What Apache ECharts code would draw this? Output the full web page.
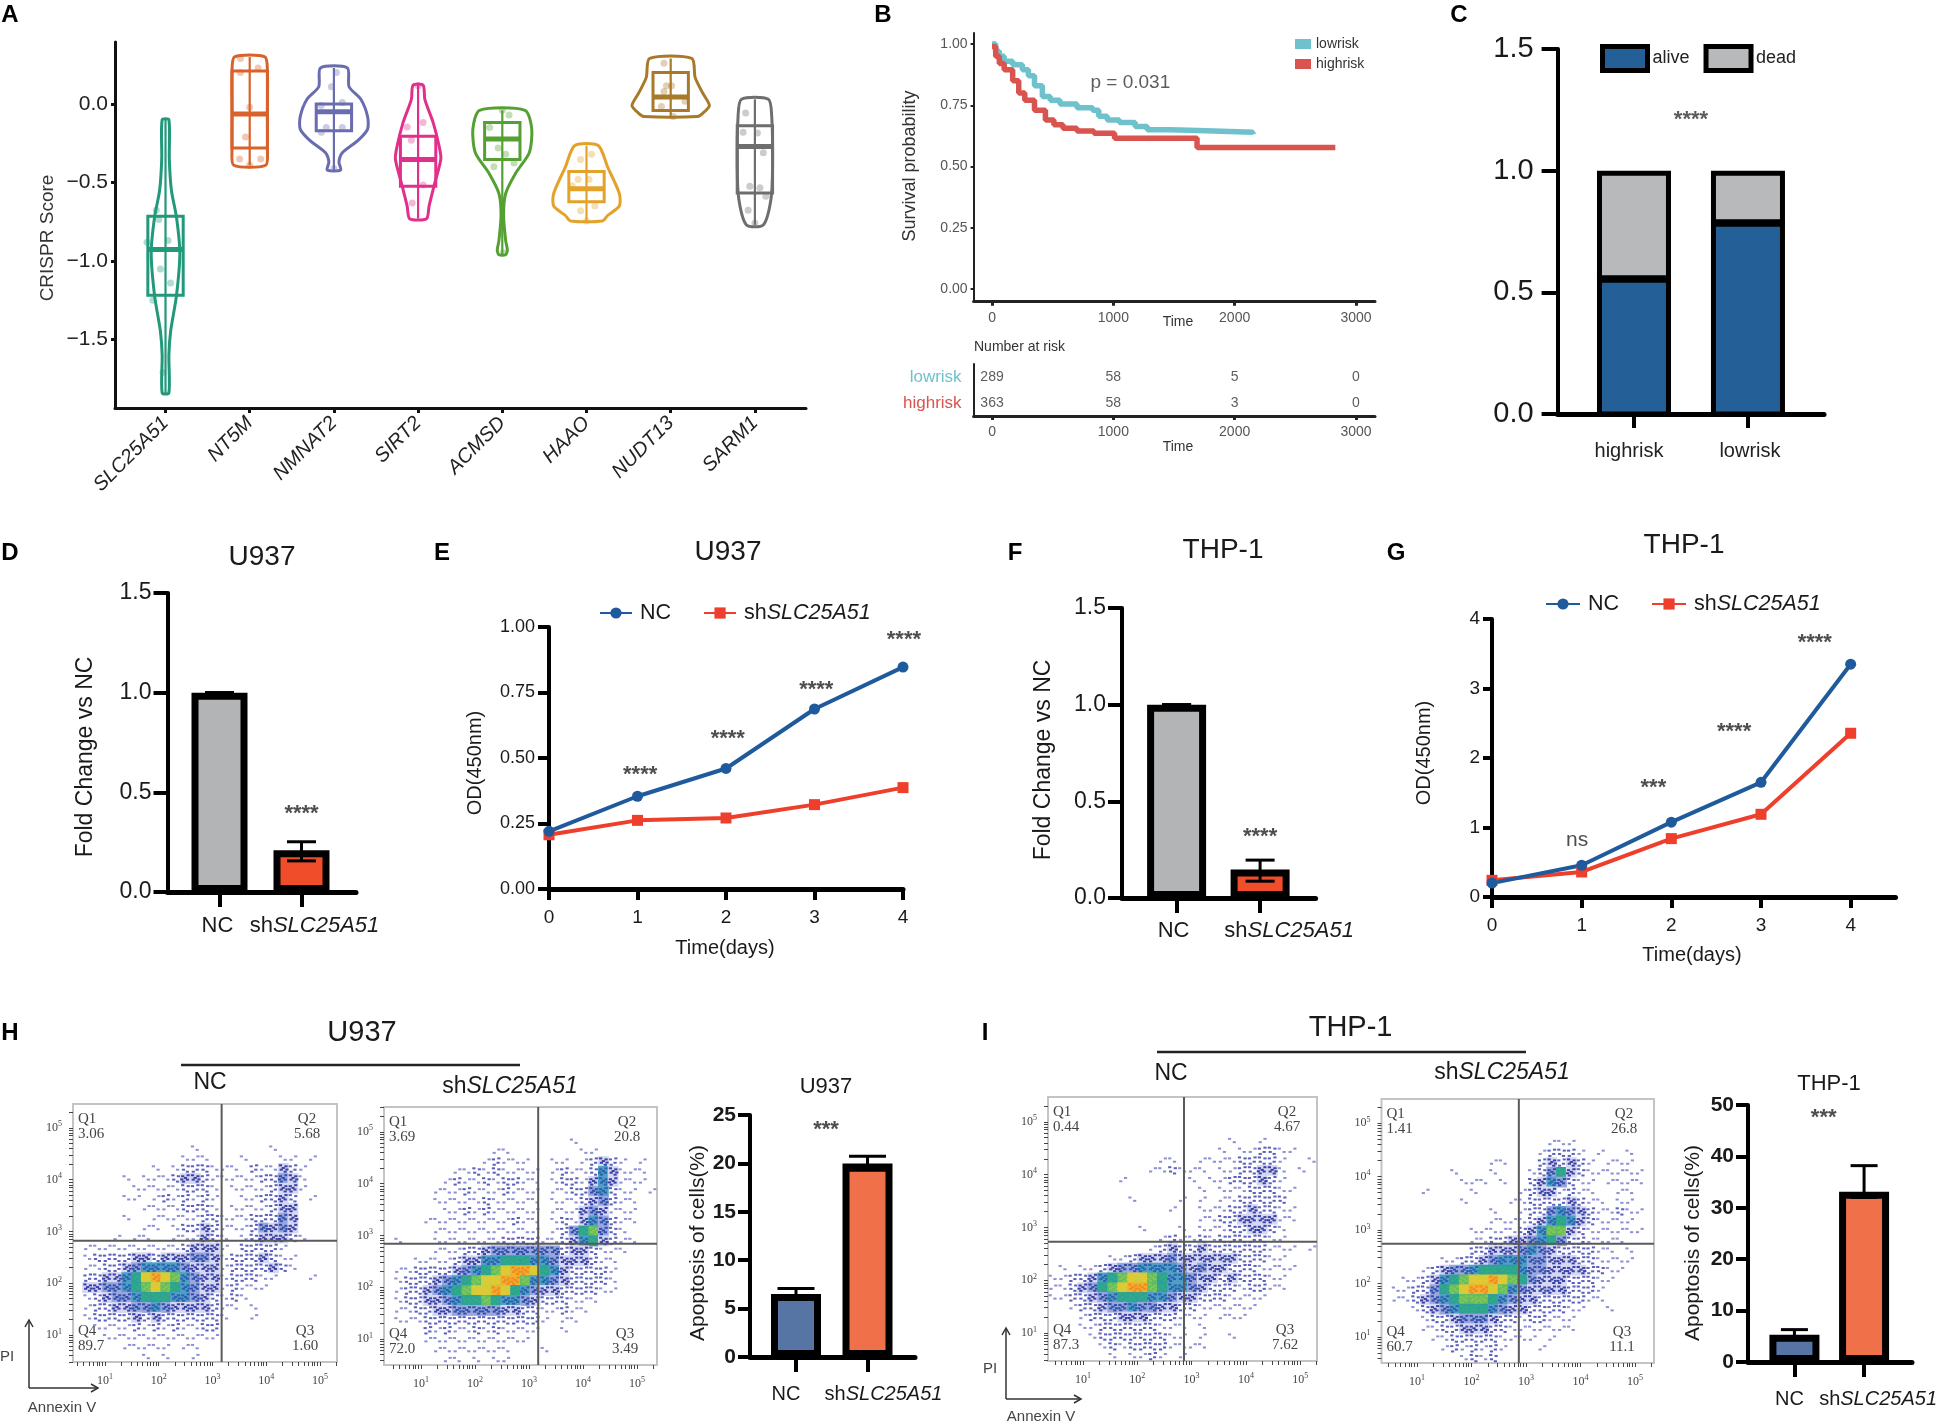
<!DOCTYPE html>
<html>
<head>
<meta charset="utf-8">
<title>SLC25A51 figure</title>
<script src="https://cdn.jsdelivr.net/npm/echarts@6/dist/echarts.min.js"></script>
<style>
html,body{margin:0;padding:0;background:#fff;}
#chart{width:1940px;height:1426px;}
</style>
</head>
<body>
<div id="chart"></div>
<script>
// ---- A: violins
const geneNames=['SLC25A51','NT5M','NMNAT2','SIRT2','ACMSD','HAAO','NUDT13','SARM1'];
// [score, half width in category units]
const violinSLC25A51=[[-0.10,0.04],[-0.35,0.045],[-0.55,0.07],[-0.72,0.13],[-0.95,0.17],[-1.22,0.13],[-1.45,0.06],[-1.6,0.04],[-1.84,0.04]];
const violinNT5M=[[0.30,0.18],[0.21,0.21],[-0.06,0.21],[-0.28,0.21],[-0.39,0.19]];
const violinNMNAT2=[[0.23,0.16],[0.11,0.18],[0.03,0.32],[-0.08,0.40],[-0.16,0.40],[-0.23,0.29],[-0.31,0.10],[-0.37,0.06],[-0.42,0.08]];
const violinSIRT2=[[0.12,0.06],[0.03,0.08],[-0.12,0.18],[-0.27,0.25],[-0.35,0.27],[-0.52,0.19],[-0.65,0.13],[-0.73,0.10]];
const violinACMSD=[[-0.04,0.27],[-0.16,0.35],[-0.31,0.32],[-0.44,0.16],[-0.57,0.04],[-0.71,0.015],[-0.87,0.04],[-0.93,0.06],[-0.96,0.04]];
const violinHAAO=[[-0.265,0.14],[-0.40,0.25],[-0.57,0.39],[-0.65,0.39],[-0.71,0.25],[-0.745,0.19]];
const violinNUDT13=[[0.29,0.25],[0.17,0.29],[0.07,0.38],[-0.01,0.46],[-0.06,0.38],[-0.08,0.32]];
const violinSARM1=[[0.03,0.16],[-0.08,0.20],[-0.40,0.21],[-0.61,0.19],[-0.77,0.10]];
const violins=[violinSLC25A51,violinNT5M,violinNMNAT2,violinSIRT2,violinACMSD,violinHAAO,violinNUDT13,violinSARM1];
// [q3, median, q1]
const boxStats=[[-0.714,-0.926,-1.218],[0.21,-0.064,-0.28],[0,-0.05,-0.17],[-0.205,-0.354,-0.523],[-0.117,-0.222,-0.354],[-0.43,-0.54,-0.623],[0.2,0.045,-0.042],[-0.138,-0.27,-0.566]];
const genePoints=[
  [[0.89,-0.676],[0.92,-0.735],[0.78,-0.88],[1.03,-0.87],[0.94,-1.05],[1.06,-1.14],[0.85,-1.25],[0.97,-1.71]],
  [[1.89,0.29],[2.1,0.23],[1.89,0.2],[2,-0.02],[1.95,-0.21],[1.88,-0.35],[2.13,-0.35],[2,-0.39]],
  [[2.97,0.11],[3.03,0.2],[2.85,-0.01],[3.1,0.01],[2.91,-0.15],[3.1,-0.15],[2.85,-0.18],[3,-0.41]],
  [[3.87,-0.146],[4.06,-0.117],[3.92,-0.23],[3.93,-0.63],[4.06,-0.515],[4,0.117]],
  [[5,-0.04],[5.08,-0.07],[4.95,-0.28],[5.04,-0.32],[4.9,-0.4],[5.14,-0.375],[5.01,-0.947],[4.85,-0.15]],
  [[5.93,-0.354],[6.06,-0.32],[5.9,-0.48],[6.03,-0.48],[5.83,-0.52],[5.93,-0.68],[6.1,-0.65],[6,-0.745]],
  [[6.92,0.26],[6.95,0.117],[7.01,0.117],[6.92,0.08],[6.89,-0.015],[7.17,0.017],[7.03,-0.08]],
  [[7.89,-0.057],[7.86,-0.18],[8.03,-0.184],[7.94,-0.523],[8.06,-0.534],[7.92,-0.676],[8.13,-0.587],[8.1,-0.31],[8,-0.76]]
];

// ---- B: survival
const lowriskCurve=[[0,1],[30,0.97],[60,0.95],[100,0.93],[170,0.915],[250,0.895],[300,0.87],[350,0.83],[415,0.786],[480,0.77],[560,0.755],[700,0.74],[830,0.73],[880,0.705],[950,0.69],[1050,0.68],[1180,0.663],[1280,0.65],[1466,0.647],[1700,0.64],[2150,0.632]];
const highriskCurve=[[0,0.99],[30,0.95],[60,0.92],[100,0.895],[170,0.85],[220,0.80],[270,0.77],[350,0.73],[440,0.69],[510,0.67],[585,0.656],[700,0.645],[840,0.636],[1010,0.615],[1690,0.615],[1690,0.578],[2830,0.578]];
const riskTimes=[0,1000,2000,3000];
const riskLow=[289,58,5,0];
const riskHigh=[363,58,3,0];

// ---- C: stacked
const vitalAlive=[0.56,0.79];
const vitalDead=[0.44,0.21];
const vitalGroups=['highrisk','lowrisk'];

// ---- D-G, H/I bars
const foldU937=[1,0.21], foldU937Err=[0.156,0.252];
const foldTHP=[1,0.147], foldTHPErr=[0.087,0.196];
const days=[0,1,2,3,4];
const odU937NC=[0.22,0.354,0.46,0.687,0.847];
const odU937Sh=[0.207,0.262,0.271,0.322,0.387];
const odTHPNC=[0.2,0.457,1.077,1.65,3.35];
const odTHPSh=[0.24,0.36,0.84,1.19,2.356];
const sigE=[[1.03,0.454,'****'],[2.02,0.59,'****'],[3.02,0.78,'****'],[4.01,0.97,'****']];
const sigG=[[1.8,1.64,'***'],[2.7,2.45,'****'],[3.6,3.73,'****']];
const apoU937=[6.5,20], apoU937Err=[[6,7.07],[19.3,20.75]];
const apoTHP=[5.3,33.1], apoTHPErr=[[4.5,6.3],[32,38.2]];

// ---- H/I flow plots, density read by eye per cell, top row first
const flowHNC=[
'000000000000000000000000000','000000000000000000000000000','000000000000000000000000000','000000000000000000000000000',
'000000000000100000001000000','000000000001110001000110100','000000001012221110211321000','000001011123321111122431000',
'000000111112221011112331000','000001101212121001122320100','000000011112221011112330000','000001001111122111222430000',
'000000011012232111243430000','000010110011132101233321000','011111111112333102222100000','012222332333443122232110000',
'011223455554333122223210000','022335689875433122211000100','033445678765433121110000000','012344566655432121000000000',
'012233445433332110100000000','012222323222222100100000000','001111212121122000000000000','000111111111111000000000000',
'000001111101100000000000000','000000010100100000000000000'];
const flowHSh=[
'0000000000000000000000000000','0000000000000000000000000000','0000000000000000000000000000','0000000000000000000100000000',
'0000000000011000000011000000','0000000000121110011012321010','0000000112121111012112531110','0000001211212211012213531110',
'0000011121112111011224521101','0000011111211111011123421100','0000001121211111011134311100','0000111111111211012135421100',
'0000011111111111012467421000','0100011111112222112356321100','0000011122344444442332111000','0001111233556665543332110000',
'0112222345678998653222210000','0122234567889975543222210000','0122345678898654332222110000','0122334566765543222111000000',
'0112233444443322112110000000','0111222222222222101100000000','0000212112121111001000000000','0000111111111110000000000000',
'0000011111111000100000000000','0000001101011000000000000000'];
const flowINC=[
'000000000000000000000000000','000000000000000000000000000','000000000000000000000000000','000000000000000000000000000',
'000000000000000000100100000','000000000000000001011221100','000000000001100111122221001','000000000011211101122331010',
'000000010000001011222321000','000000000000000101112221100','000000001000010101122222000','000000000000100111223221100',
'000000000000000112233331100','000000000100010111223321000','000000000001211212222211000','000000000012322322222211101',
'000000112333433333322211000','010112344555543433222111100','112235678876554332322211000','112346789976554322212211000',
'112234566655433222111100000','001223445443322111111000000','000122233322211101110000000','000112222221110100000000000',
'000012222222110100100000000','000001212222111100000000000','000000101121010000000000000'];
const flowISh=[
'0000000000000000000000000000','0000000000000000000000000000','0000000000000000000000000000','0000000000000000000000000000',
'0000000000000000011100000000','0000000000000000122210100100','0000000000011000232321011100','0000000100010001246321111110',
'0000000011101002354211011110','0000100001000012331211001100','0000000010000112222321101100','0000000000010012245432112110',
'0000000000011112356532111100','0000000001111123577321111110','0000000001122334564221111000','0000000002233345432222110100',
'0000001122345554433322111100','0000123445666654433332211000','0011235678898764333222110000','0112246789987543333222100000',
'0112345677765433222221100000','0001234566654332222110010000','0000122344432212211100000000','0000112233322111111100000000',
'0000011222221111010000000000','0000001212121000100000000000','0000000012120000000000000000'];
const quadHNC=['3.06','5.68','1.60','89.7'];
const quadHSh=['3.69','20.8','3.49','72.0'];
const quadINC=['0.44','4.67','7.62','87.3'];
const quadISh=['1.41','26.8','11.1','60.7'];
const gateHNC=[3.17,2.82], gateHSh=[3.17,2.84], gateINC=[2.86,2.73], gateISh=[2.87,2.74];
const decades=[1,2,3,4,5];

const FONT='"Liberation Sans",Arial,sans-serif';
const SERIF='"Liberation Serif",serif';
const NC_BLUE='#1f5a9c', SH_RED='#ee3e2c';
const geneColors=['#22997a','#d9622b','#6a6cb0','#e1308c','#54a032','#e3a32a','#a9792a','#6e6e6e'];
// dash colour and cell background per density level
const densityColors=['','#8d91d4','#5a60bc','#3a40a4','#2f50aa','#2a62ae','#2fae84','#86c84e','#eec52e','#f08a24'];
const densityBacks=['','','','#d5d8f3','#9aa6dd','#4f9fc6','#2f9f98','#5fbc68','#c9cf3e','#f2b02c'];
const dashSpots=[[0.22,0.28],[0.7,0.62],[0.3,0.82],[0.78,0.18],[0.5,0.45],[0.12,0.6]];

const grids=[], xAxes=[], yAxes=[], series=[], graphics=[];

const txt=(t,x,y,size,o={})=>{
    graphics.push({type:'text',x,y,rotation:o.rot||0,silent:true,style:{
        text:t,fontSize:size,fontFamily:o.family||FONT,fontWeight:o.weight||'normal',fill:o.fill||'#1a1a1a',
        align:o.align||'center',verticalAlign:'middle',textAlign:o.align||'center',textVerticalAlign:'middle',
        rich:{i:{fontStyle:'italic',fontSize:size,fontFamily:FONT,fill:o.fill||'#1a1a1a'}}
    }});
};
const vtxt=(t,x,y,size,o={})=>txt(t,x,y,size,{...o,rot:Math.PI/2});
const line=(x1,y1,x2,y2,w,c='#222')=>graphics.push({type:'line',silent:true,shape:{x1,y1,x2,y2},style:{stroke:c,lineWidth:w}});
const head=(pts,c='#333')=>graphics.push({type:'polyline',silent:true,shape:{points:pts},style:{stroke:c,lineWidth:1.5,fill:'none'}});

const addGrid=(l,t,r,b,extra={})=>{grids.push({left:l,top:t,width:r-l,height:b-t,...extra});return grids.length-1;};
const valAxis=(idx,min,max,ticks,o={})=>({
    type:'value',gridIndex:idx,min,max,
    axisLine:{show:o.lineW!==0,onZero:false,lineStyle:{width:o.lineW,color:o.color||'#000'}},
    axisTick:{show:true,length:o.tickLen||6,lineStyle:{width:o.tickW||o.lineW,color:o.color||'#000'},customValues:o.tickValues||ticks},
    axisLabel:{customValues:ticks,formatter:o.fmt,fontSize:o.size,margin:o.margin,color:o.labelColor||'#1a1a1a',fontFamily:o.family||FONT,rotate:o.rotate||0,fontStyle:o.italic?'italic':'normal',fontWeight:o.weight||'normal',rich:o.rich,hideOverlap:false},
    splitLine:{show:false}
});
const noteSeries=(idx,pts,size,o={})=>({
    type:'scatter',xAxisIndex:idx,yAxisIndex:idx,symbolSize:0,clip:false,silent:true,z:6,data:pts,
    label:{show:true,position:'inside',offset:[0,o.dy||0],formatter:p=>p.data[2],fontSize:size,fontFamily:FONT,color:o.color||'#222',fontWeight:o.weight||'normal'}
});

// ---- panel A
(function(){
    const g=addGrid(115,42,806,408);
    xAxes.push(valAxis(g,0.4,8.607,[1,2,3,4,5,6,7,8],{lineW:3,tickLen:5,size:20,margin:12,rotate:45,italic:true,color:'#111',labelColor:'#222',fmt:v=>geneNames[v-1]}));
    yAxes.push(valAxis(g,-1.936,0.395,[-1.5,-1,-0.5,0],{lineW:3,tickLen:4,size:21,margin:7,labelColor:'#222',color:'#111',fmt:v=>v.toFixed(1).replace('-','\u2212')}));
    geneNames.forEach((name,i)=>{
        series.push({
            type:'custom',xAxisIndex:g,yAxisIndex:g,name:'v'+name,silent:true,z:3,
            data:[[i+1,boxStats[i][0],boxStats[i][1],boxStats[i][2]]],
            encode:{x:0,y:[1,2,3]},
            renderItem:(params,api)=>{
                const x=api.value(0), col=geneColors[i], v=violins[i];
                const right=v.map(p=>api.coord([x+p[1],p[0]]));
                const left=v.slice().reverse().map(p=>api.coord([x-p[1],p[0]]));
                const top=api.coord([x,v[0][0]]), bot=api.coord([x,v[v.length-1][0]]);
                const a=api.coord([x-0.21,api.value(1)]), b=api.coord([x+0.21,api.value(3)]);
                const m1=api.coord([x-0.21,api.value(2)]), m2=api.coord([x+0.21,api.value(2)]);
                return {type:'group',children:[
                    {type:'polygon',shape:{points:right.concat(left),smooth:0.25},style:{fill:'none',stroke:col,lineWidth:3}},
                    {type:'line',shape:{x1:top[0],y1:top[1],x2:bot[0],y2:bot[1]},style:{stroke:col,lineWidth:2.2}},
                    {type:'rect',shape:{x:a[0],y:a[1],width:b[0]-a[0],height:b[1]-a[1]},style:{fill:'none',stroke:col,lineWidth:3}},
                    {type:'line',shape:{x1:m1[0],y1:m1[1],x2:m2[0],y2:m2[1]},style:{stroke:col,lineWidth:5}}
                ]};
            }
        });
        series.push({type:'scatter',xAxisIndex:g,yAxisIndex:g,silent:true,symbolSize:7,z:2,data:genePoints[i],itemStyle:{color:geneColors[i],opacity:0.35}});
    });
    vtxt('CRISPR Score',48,238,19,{fill:'#333'});
})();

// ---- panel B
(function(){
    const g=addGrid(973.6,33,1375,301.7);
    xAxes.push(valAxis(g,-152,3157,riskTimes,{lineW:3,tickLen:4,size:14,margin:9,labelColor:'#555',color:'#222',fmt:v=>String(v)}));
    yAxes.push(valAxis(g,-0.052,1.045,[0,0.25,0.5,0.75,1],{lineW:2,tickLen:3,size:14,margin:6,labelColor:'#555',color:'#222',fmt:v=>v.toFixed(2)}));
    series.push({type:'line',name:'lowrisk',xAxisIndex:g,yAxisIndex:g,step:'end',showSymbol:false,silent:true,data:lowriskCurve,z:3,lineStyle:{color:'#6fc2cc',width:5.5},itemStyle:{color:'#6fc2cc'}});
    series.push({type:'line',name:'highrisk',xAxisIndex:g,yAxisIndex:g,step:'end',showSymbol:false,silent:true,data:highriskCurve,z:4,lineStyle:{color:'#d9534f',width:5.5},itemStyle:{color:'#d9534f'}});
    series.push(noteSeries(g,[[1140,0.84,'p = 0.031']],19,{color:'#333'}));
    vtxt('Survival probability',910,166,18,{fill:'#333'});
    txt('Time',1178,322,14,{fill:'#333'});
    txt('Number at risk',974,347,14,{align:'left',fill:'#333'});
    txt('Time',1178,447,14,{fill:'#333'});

    const r=addGrid(973.6,364,1375,416);
    xAxes.push(valAxis(r,-152,3157,riskTimes,{lineW:3,tickLen:4,size:14,margin:9,labelColor:'#555',color:'#222',fmt:v=>String(v)}));
    yAxes.push({type:'category',gridIndex:r,data:['highrisk','lowrisk'],axisLine:{show:true,onZero:false,lineStyle:{width:2,color:'#222'}},axisTick:{show:false},
        axisLabel:{fontSize:17,margin:12,fontFamily:FONT,color:v=>v==='lowrisk'?'#6fc2cc':'#d9534f'}});
    const rows=(arr,name)=>arr.map((n,i)=>[riskTimes[i],name,String(n)]);
    series.push(noteSeries(r,rows(riskLow,'lowrisk').concat(rows(riskHigh,'highrisk')),14,{color:'#333'}));
})();

// ---- panel C
(function(){
    const g=addGrid(1557.6,49,1824,414);
    const rich={l:{fontSize:20,fontFamily:FONT,padding:[0,10,0,0],color:'#222'},r:{fontSize:20,fontFamily:FONT,padding:[0,0,0,4],color:'#222'}};
    xAxes.push(valAxis(g,0.33,2.667,[1,2],{lineW:5,tickLen:14,tickW:4,size:20,margin:27,rich,fmt:v=>v===1?'{l|'+vitalGroups[0]+'}':'{r|'+vitalGroups[1]+'}'}));
    yAxes.push(valAxis(g,0,1.5,[0,0.5,1,1.5],{lineW:4,tickLen:16,size:29,margin:24,fmt:v=>v.toFixed(1)}));
    const stacked=(name,col,bases,vals)=>({
        type:'custom',name,xAxisIndex:g,yAxisIndex:g,silent:true,z:3,itemStyle:{color:col},
        data:vals.map((v,i)=>[i+1,bases[i],bases[i]+v]),encode:{x:0,y:[1,2]},
        renderItem:(params,api)=>{
            const a=api.coord([api.value(0),api.value(1)]), b=api.coord([api.value(0),api.value(2)]);
            const half=34.5, topY=b[1]+2.5;
            return {type:'rect',shape:{x:a[0]-half,y:topY,width:half*2,height:a[1]-topY},style:{fill:col,stroke:'#000',lineWidth:5}};
        }
    });
    series.push(stacked('alive','#245f97',[0,0],vitalAlive));
    series.push(stacked('dead','#b8b9bb',vitalAlive,vitalDead));
    series.push(noteSeries(g,[[1.5,1.23,'****']],22,{dy:5,color:'#333',weight:'bold'}));
})();

const errorSeries=(g,xs,errs,cap)=>({
    type:'custom',xAxisIndex:g,yAxisIndex:g,silent:true,z:5,clip:false,
    data:xs.map((x,i)=>[x,errs[i][0],errs[i][1]]),encode:{x:0,y:[1,2]},
    renderItem:(params,api)=>{
        const x=api.value(0), lo=api.coord([x,api.value(1)]), hi=api.coord([x,api.value(2)]);
        const st={stroke:'#000',lineWidth:3};
        return {type:'group',children:[
            {type:'line',shape:{x1:lo[0],y1:lo[1],x2:hi[0],y2:hi[1]},style:st},
            {type:'line',shape:{x1:lo[0]-cap/2,y1:lo[1],x2:lo[0]+cap/2,y2:lo[1]},style:st},
            {type:'line',shape:{x1:hi[0]-cap/2,y1:hi[1],x2:hi[0]+cap/2,y2:hi[1]},style:st}
        ]};
    }
});

// bar panels D, F, H, I share one shape
const barPanel=(l,vals,errs,colors,stars)=>{
    const g=addGrid(l.axisX,l.top,l.right,l.bottom);
    const rich={
        a:{fontSize:l.font,fontFamily:FONT,color:'#1a1a1a',padding:[0,Math.max(0,-2*l.nudge[0]),0,0]},
        b:{fontSize:l.font,fontFamily:FONT,color:'#1a1a1a',padding:[0,0,0,2*l.nudge[1]]},
        c:{fontSize:l.font,fontFamily:FONT,color:'#1a1a1a',fontStyle:'italic'}
    };
    xAxes.push(valAxis(g,1+(l.axisX-l.x1)/l.dx,1+(l.right-l.x1)/l.dx,[1,2],{lineW:5,tickLen:15,tickW:4,size:l.font,margin:l.labelMargin,rich,
        fmt:v=>v===1?'{a|NC}':'{b|sh}{c|SLC25A51}'}));
    yAxes.push(valAxis(g,0,l.yMax,l.ticks,{lineW:4,tickLen:l.tickLen,size:l.tickFont,margin:l.tickLen+2,fmt:l.fmt,weight:l.tickWeight}));
    series.push({type:'bar',xAxisIndex:g,yAxisIndex:g,barWidth:l.barW,silent:true,z:3,
        data:[1,2].map((x,i)=>({value:[x,vals[i]],itemStyle:{color:colors[i],borderColor:'#000',borderWidth:7}}))});
    series.push(errorSeries(g,[1,2],errs,l.cap));
    series.push(noteSeries(g,stars,22,{dy:5,color:'#222',weight:'bold'}));
};
const noErr=v=>[v,v];

barPanel({axisX:167.5,top:593,right:356,bottom:892,x1:219.5,dx:82,yMax:1.5,ticks:[0,0.5,1,1.5],fmt:v=>v.toFixed(1),tickLen:14,tickFont:23,barW:56,cap:29,font:22,labelMargin:23,nudge:[-2,13]},
    foldU937,[noErr(foldU937[0]),foldU937Err],['#b3b4b6','#f04e2a'],[[2,0.416,'****']]);
barPanel({axisX:1122,top:608,right:1315.6,bottom:898,x1:1176.6,dx:83.5,yMax:1.5,ticks:[0,0.5,1,1.5],fmt:v=>v.toFixed(1),tickLen:14,tickFont:23,barW:59,cap:29,font:22,labelMargin:22,nudge:[-3,29]},
    foldTHP,[noErr(foldTHP[0]),foldTHPErr],['#b3b4b6','#f04e2a'],[[2,0.34,'****']]);
barPanel({axisX:750,top:1115,right:915,bottom:1357,x1:796,dx:71.5,yMax:25,ticks:[0,5,10,15,20,25],fmt:v=>String(v),tickLen:12,tickFont:21,tickWeight:'bold',barW:50,cap:37,font:20,labelMargin:27,nudge:[-10,16]},
    apoU937,apoU937Err,['#5675a5','#f0704a'],[[1.42,24,'***']]);
barPanel({axisX:1748,top:1105,right:1914,bottom:1362,x1:1795,dx:70.5,yMax:50,ticks:[0,10,20,30,40,50],fmt:v=>String(v),tickLen:12,tickFont:21,tickWeight:'bold',barW:50,cap:27,font:20,labelMargin:27,nudge:[-5,14]},
    apoTHP,apoTHPErr,['#5675a5','#f0704a'],[[1.42,48.5,'***']]);

// line panels E, G
const linePanel=(l,nc,sh,notes)=>{
    const g=addGrid(l.left,l.top,l.right,l.bottom);
    xAxes.push(valAxis(g,0,l.xMax,days,{lineW:5,tickLen:11,tickW:4,size:19,margin:19,fmt:v=>String(v)}));
    yAxes.push(valAxis(g,0,l.yMax,l.ticks,{lineW:4,tickLen:l.tickLen,size:l.tickFont,margin:l.tickLen+3,fmt:l.fmt}));
    const mk=(name,vals,col,sym)=>({type:'line',name,xAxisIndex:g,yAxisIndex:g,clip:false,silent:true,symbol:sym,symbolSize:11,showAllSymbol:true,z:4,
        data:days.map((d,i)=>[d,vals[i]]),lineStyle:{color:col,width:4},itemStyle:{color:col}});
    series.push(mk('shSLC25A51',sh,SH_RED,'rect'));
    series.push(mk('NC',nc,NC_BLUE,'circle'));
    series.push(noteSeries(g,notes,22,{dy:5,color:'#222',weight:'bold'}));
};
linePanel({left:549,top:627,right:903,bottom:889,xMax:4,yMax:1,ticks:[0,0.25,0.5,0.75,1],fmt:v=>v.toFixed(2),tickLen:11,tickFont:18},odU937NC,odU937Sh,sigE);
linePanel({left:1492,top:619,right:1895.5,bottom:897,xMax:4.5,yMax:4,ticks:[0,1,2,3,4],fmt:v=>String(v),tickLen:9,tickFont:19},odTHPNC,odTHPSh,sigG);
series.push(noteSeries(xAxes.length-1,[[0.95,0.82,'ns']],21,{color:'#222'}));

// flow plots
const logTicks=[];
[0,1,2,3,4,5].forEach(d=>[0,0.3,0.48,0.6,0.7,0.78,0.85,0.9,0.95].forEach(f=>logTicks.push(d+f)));
const flowPlot=(f,matrix,gate,quad)=>{
    const g=addGrid(f.left,f.top,f.right,f.bottom,{show:true,borderColor:'#c4c4c4',borderWidth:2,backgroundColor:'#fff'});
    const richLabel={s:{fontSize:8,fontFamily:SERIF,color:'#444',padding:[0,0,7,0]},b:{fontSize:12,fontFamily:SERIF,color:'#444'}};
    const fmt=v=>'{b|10}{s|'+v+'}';
    const tv=min=>logTicks.filter(t=>t>=min);
    xAxes.push(valAxis(g,f.xr[0],f.xr[1],decades,{lineW:0,tickLen:4,tickW:1,color:'#444',size:12,margin:11,rich:richLabel,fmt,family:SERIF,tickValues:tv(f.xr[0]).filter(t=>t<=f.xr[1])}));
    yAxes.push(valAxis(g,f.yr[0],f.yr[1],decades,{lineW:0,tickLen:4,tickW:1,color:'#444',size:12,margin:11,rich:richLabel,fmt,family:SERIF,tickValues:tv(f.yr[0]).filter(t=>t<=f.yr[1])}));
    const cols=matrix[0].length, rows=matrix.length;
    const dx=(f.xr[1]-f.xr[0])/cols, dy=(f.yr[1]-f.yr[0])/rows;
    const cells=[];
    matrix.forEach((row,r)=>row.split('').forEach((c,k)=>{
        if(c!=='0') cells.push([f.xr[0]+(k+0.5)*dx,f.yr[1]-(r+0.5)*dy,+c,k+r]);
    }));
    series.push({type:'custom',xAxisIndex:g,yAxisIndex:g,silent:true,z:2,data:cells,encode:{x:0,y:1},
        renderItem:(params,api)=>{
            const c=api.coord([api.value(0),api.value(1)]), sz=api.size([dx,dy]), d=api.value(2), odd=api.value(3)%2;
            const x0=c[0]-sz[0]/2, y0=c[1]-sz[1]/2;
            const kids=[];
            const n=d===1?2:d===2?4:6;
            if(d>=3) kids.push({type:'rect',shape:{x:x0-0.5,y:y0-0.5,width:sz[0]+1,height:sz[1]+1},style:{fill:densityBacks[d]}});
            for(let i=0;i<n;i++){
                const s=dashSpots[i], sx=odd?1-s[0]:s[0];
                kids.push({type:'rect',shape:{x:x0+sx*sz[0]-1.6,y:y0+s[1]*sz[1]-1,width:3.2,height:2},style:{fill:densityColors[d]}});
            }
            return {type:'group',children:kids};
        }});
    const gl={color:'#5a5a5a',width:2};
    series.push({type:'line',xAxisIndex:g,yAxisIndex:g,silent:true,symbol:'none',z:4,data:[[gate[0],f.yr[0]],[gate[0],f.yr[1]]],lineStyle:gl});
    series.push({type:'line',xAxisIndex:g,yAxisIndex:g,silent:true,symbol:'none',z:4,data:[[f.xr[0],gate[1]],[f.xr[1],gate[1]]],lineStyle:gl});
    const qf={family:SERIF,fill:'#444'};
    txt('Q1\n'+quad[0],f.left+5,f.top+23,15,{...qf,align:'left'});
    txt('Q2\n'+quad[1],f.right-30,f.top+23,15,qf);
    txt('Q4\n'+quad[3],f.left+5,f.bottom-23,15,{...qf,align:'left'});
    txt('Q3\n'+quad[2],f.right-32,f.bottom-23,15,qf);
};
flowPlot({left:73,right:337,top:1104,bottom:1362,xr:[0.405,5.316],yr:[0.478,5.46]},flowHNC,gateHNC,quadHNC);
flowPlot({left:384,right:657,top:1107,bottom:1365,xr:[0.315,5.37],yr:[0.5,5.48]},flowHSh,gateHSh,quadHSh);
flowPlot({left:1048,right:1317,top:1097,bottom:1361,xr:[0.355,5.31],yr:[0.47,5.47]},flowINC,gateINC,quadINC);
flowPlot({left:1381.5,right:1654,top:1099,bottom:1363,xr:[0.35,5.35],yr:[0.51,5.45]},flowISh,gateISh,quadISh);

// free text: letters, titles, axis names
[['A',10,15],['B',883,15],['C',1459,15],['D',10,553],['E',442,553],['F',1015,553],['G',1396,553],['H',10,1033],['I',985,1033]]
    .forEach(p=>txt(p[0],p[1],p[2],24,{weight:'bold',fill:'#000'}));
txt('U937',262,557,28); txt('U937',728,552,28); txt('THP-1',1223,550,28); txt('THP-1',1684,545,28);
vtxt('Fold Change vs NC',86,757,23); vtxt('Fold Change vs NC',1044,760,23);
vtxt('OD(450nm)',475,763,20); vtxt('OD(450nm)',1424,753,20);
txt('Time(days)',725,948,20); txt('Time(days)',1692,955,20);
txt('U937',362,1033,29); line(181,1065,520,1065,2.5);
txt('NC',210,1083,23); txt('sh{i|SLC25A51}',510,1087,23);
txt('U937',826,1087,22); vtxt('Apoptosis of cells(%)',698,1243,21);
txt('THP-1',1350.6,1028,29); line(1157,1052,1526,1052,2.5);
txt('NC',1171,1074,23); txt('sh{i|SLC25A51}',1502,1073,23);
txt('THP-1',1829,1084,22); vtxt('Apoptosis of cells(%)',1693,1243,21);
// PI / Annexin V arrows
[[29,1388,1320,98,7,1357,62,1408],[1006,1399,1328,1081,990,1369,1041,1417]].forEach(a=>{
    line(a[0],a[1],a[0],a[2],1.5,'#333'); line(a[0],a[1],a[3],a[1],1.5,'#333');
    head([[a[0]-4,a[2]+7],[a[0],a[2]],[a[0]+4,a[2]+7]]);
    head([[a[3]-7,a[1]-4],[a[3],a[1]],[a[3]-7,a[1]+4]]);
    txt('PI',a[4],a[5],15,{fill:'#444'}); txt('Annexin V',a[6],a[7],15,{fill:'#444'});
});

const legendFmt=n=>n==='shSLC25A51'?'sh{i|SLC25A51}':n;
const legendBase={selectedMode:false,formatter:legendFmt,padding:0};
const lineLegendText={fontSize:21.5,fontFamily:FONT,color:'#1a1a1a',padding:[0,0,0,3],rich:{i:{fontStyle:'italic',fontSize:21.5,fontFamily:FONT}}};
const legends=[
    {...legendBase,data:[{name:'lowrisk',icon:'rect'},{name:'highrisk',icon:'rect'}],orient:'vertical',left:1295,top:37,itemWidth:16,itemHeight:10,itemGap:6,textStyle:{fontSize:14,fontFamily:FONT,color:'#333'}},
    {...legendBase,data:[{name:'alive',icon:'rect'},{name:'dead',icon:'rect'}],left:1600,top:44,itemWidth:45,itemHeight:24,itemGap:14,itemStyle:{borderColor:'#000',borderWidth:5},textStyle:{fontSize:18,fontFamily:FONT,color:'#222'}},
    {...legendBase,data:['NC','shSLC25A51'],left:599,top:602,itemWidth:32,itemHeight:14,itemGap:32,textStyle:lineLegendText},
    {...legendBase,data:['NC','shSLC25A51'],left:1545,top:593,itemWidth:34,itemHeight:14,itemGap:32,textStyle:lineLegendText}
];

const chart=echarts.init(document.getElementById('chart'));
chart.setOption({
    animation:false,
    backgroundColor:'#fff',
    textStyle:{fontFamily:FONT},
    grid:grids,
    xAxis:xAxes,
    yAxis:yAxes,
    legend:legends,
    series,
    graphic:{elements:graphics}
});
</script>
</body>
</html>
